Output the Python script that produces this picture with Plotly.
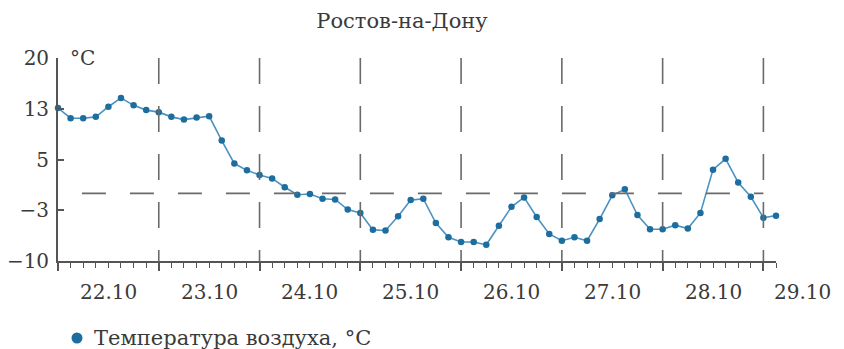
import plotly.graph_objects as go

# температура каждые 3 часа, начиная с 22.10 00:00
temps = [12.6, 11.1, 11.1, 11.3, 12.8, 14.1, 13.0, 12.3,
         12.0, 11.3, 10.9, 11.2, 11.4, 7.8, 4.4, 3.4,
         2.7, 2.2, 0.9, -0.2, -0.1, -0.8, -0.9, -2.4,
         -2.9, -5.4, -5.5, -3.4, -1.0, -0.8, -4.4, -6.5,
         -7.2, -7.2, -7.6, -4.8, -2.0, -0.6, -3.5, -6.0,
         -7.0, -6.5, -7.0, -3.8, -0.3, 0.6, -3.2, -5.3,
         -5.3, -4.7, -5.2, -2.9, 3.5, 5.1, 1.6, -0.5,
         -3.6, -3.3]
steps = list(range(len(temps)))
days = ['22.10', '23.10', '24.10', '25.10', '26.10', '27.10', '28.10']
day_label_pos = [4, 12, 20, 28, 36, 44, 52]
last_day = '29.10'
day_bounds = [8, 16, 24, 32, 40, 48, 56]
ytick_vals = [20, 12.5, 5, -2.5, -10]
ytick_text = ['20', '13', '5', '−3', '−10']
series_name = 'Температура воздуха, °C'

font = 'DejaVu Serif'
txt = '#3a3a3a'
axis_col = '#555555'
dot_col = '#1d6e9e'

# страница сдвигает график на 8px (отступ body), поэтому размеры меньше окна
W, H = 836, 341
L, R, T, B = 50, 68, 50, 88
plot_w, plot_h = W - L - R, H - T - B

fig = go.Figure()
fig.add_trace(go.Scatter(
    x=steps, y=temps, mode='lines+markers', cliponaxis=False,
    line=dict(color='#4a92c2', width=1.6),
    marker=dict(color=dot_col, size=6.5),
    name=series_name, showlegend=False))

for b in day_bounds:
    fig.add_shape(type='line', x0=b, x1=b, y0=20, y1=-10,
                  line=dict(color='#6a6a6a', width=1.6, dash='26px,22px'))
fig.add_shape(type='line', x0=1.9, x1=56, y0=0, y1=0,
              line=dict(color='#6a6a6a', width=1.6, dash='24px,24px'))

for d, p in zip(days, day_label_pos):
    fig.add_annotation(x=p, y=-10, yshift=-31, text=d, showarrow=False,
                       font=dict(family=font, size=20, color=txt))
fig.add_annotation(x=steps[-1], y=-10, xshift=26, yshift=-31,
                   text=last_day, showarrow=False,
                   font=dict(family=font, size=20, color=txt))
fig.add_annotation(x=0, y=20, xshift=10, text='°C', showarrow=False,
                   xanchor='left', font=dict(family=font, size=20, color=txt))

# легенда: точка + подпись под графиком
leg_x = 19 / plot_w
leg_y = -77 / plot_h
fig.add_shape(type='circle', xref='paper', yref='paper',
              xsizemode='pixel', ysizemode='pixel',
              xanchor=leg_x, yanchor=leg_y, x0=-5.5, x1=5.5, y0=-5.5, y1=5.5,
              fillcolor=dot_col, line=dict(width=0))
fig.add_annotation(xref='paper', yref='paper', x=leg_x, y=leg_y, xshift=15,
                   xanchor='left', yanchor='middle', text=series_name,
                   showarrow=False, font=dict(family=font, size=21, color=txt))

fig.update_layout(
    width=W, height=H,
    margin=dict(l=L, r=R, t=T, b=B, autoexpand=False),
    plot_bgcolor='white', paper_bgcolor='white',
    showlegend=False,
    font=dict(family=font, color=txt, size=20),
    title=dict(text='Ростов-на-Дону', x=394 / W, xanchor='center',
               y=1 - 13 / H, yanchor='middle',
               font=dict(family=font, size=21, color=txt)),
    xaxis=dict(range=[0, 57], showgrid=False, zeroline=False, showline=True,
               automargin=False,
               linecolor=axis_col, linewidth=1.8, tickmode='linear', tick0=0,
               dtick=8, ticks='outside', ticklen=8, tickwidth=1.6,
               tickcolor=axis_col, showticklabels=False,
               minor=dict(dtick=1, tick0=0, ticks='outside', ticklen=5,
                          tickwidth=1.4, tickcolor=axis_col, showgrid=False)),
    yaxis=dict(range=[-10, 20], showgrid=False, zeroline=False, showline=True,
               automargin=False,
               linecolor=axis_col, linewidth=1.8, tickmode='array',
               tickvals=ytick_vals, ticktext=ytick_text, ticks='inside',
               ticklen=6, tickwidth=1.6, tickcolor=axis_col,
               ticklabelstandoff=3,
               tickfont=dict(family=font, size=20, color=txt)),
)

fig.write_html('out.html')
